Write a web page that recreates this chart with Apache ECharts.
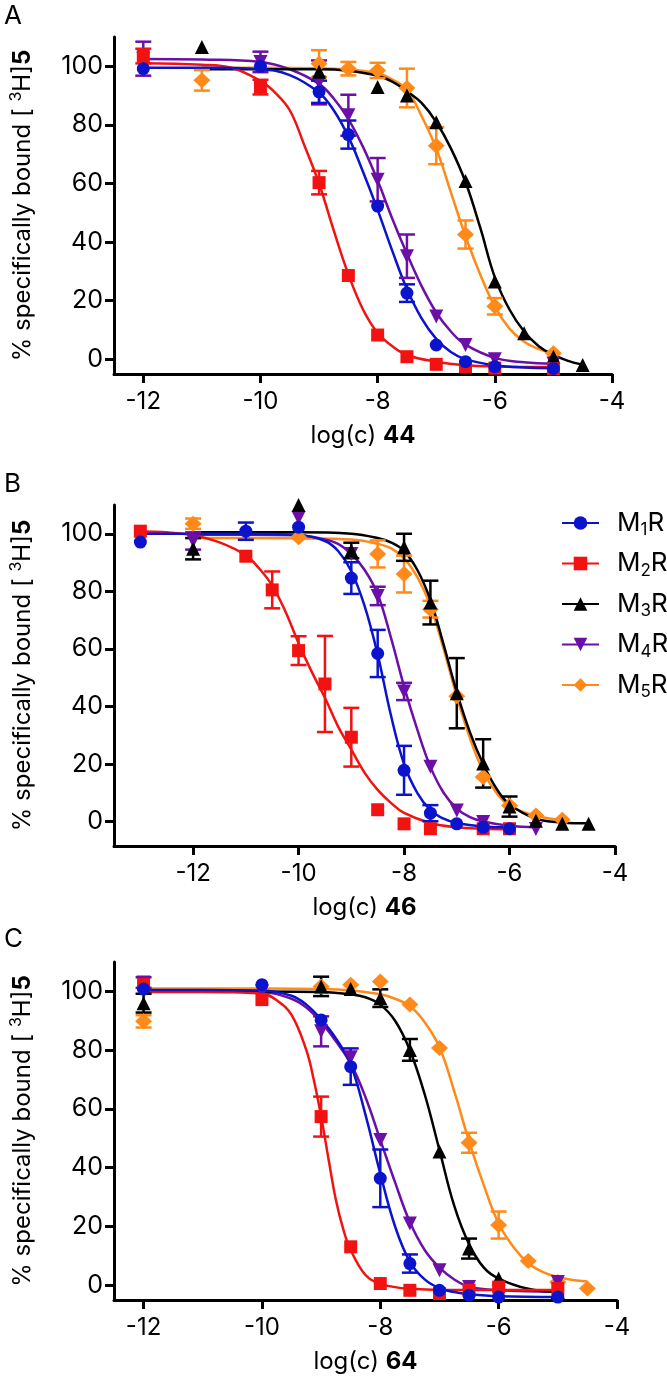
<!DOCTYPE html>
<html>
<head>
<meta charset="utf-8">
<script src="https://cdn.jsdelivr.net/npm/echarts@6.0.0/dist/echarts.min.js"></script>
<style>
html, body { margin: 0; padding: 0; background: #fff; }
#chart { width: 667px; height: 1380px; }
</style>
</head>
<body>
<div id="chart"></div>
<script>
// Data (log molar concentration vs % bound)
const receptors = ['M1R', 'M2R', 'M3R', 'M4R', 'M5R'];
const compounds = ['44', '46', '64'];
const panelLetters = ['A', 'B', 'C'];
const xTicks = [-12, -10, -8, -6, -4];
const yTicks = [0, 20, 40, 60, 80, 100];

// Panel A, compound 44
const A_M1R_pts = [[-12, 99.2], [-10, 100], [-9, 91.3], [-8.5, 76.7], [-8, 52.3], [-7.5, 22.6], [-7, 4.9], [-6.5, -0.8], [-6, -2.5], [-5, -3.1]];
const A_M1R_err = [[-9, 3.8], [-8.5, 4.8], [-7.5, 3]];
const A_M1R_fit = [[-12, 99.5], [-11, 99.5], [-10, 99], [-9.5, 97], [-9, 91], [-8.75, 85], [-8.5, 76], [-8.25, 64], [-8, 51], [-7.75, 37], [-7.5, 24], [-7.25, 14], [-7, 7], [-6.75, 2.5], [-6.5, 0], [-6, -2], [-5.5, -2.8], [-5, -3]];
const A_M2R_pts = [[-12, 103.5], [-10, 92.9], [-9, 60.3], [-8.5, 28.6], [-8, 8.3], [-7.5, 0.9], [-7, -1.7], [-6.5, -2.5], [-6, -3], [-5, -3.2]];
const A_M2R_err = [[-12, 2.5], [-10, 2.5], [-9, 4]];
const A_M2R_fit = [[-12, 101], [-11, 100.5], [-10.5, 99.5], [-10, 95], [-9.75, 91], [-9.5, 85], [-9.25, 73], [-9, 60], [-8.75, 44], [-8.5, 29], [-8.25, 17], [-8, 9], [-7.75, 4.5], [-7.5, 1.5], [-7, -0.8], [-6.5, -2], [-6, -2.4], [-5, -2.6]];
const A_M3R_pts = [[-11, 106.6], [-9, 98.1], [-8, 92.9], [-7.5, 90], [-7, 80.9], [-6.5, 60.9], [-6, 26.6], [-5.5, 8.9], [-5, 0.9], [-4.5, -1.9]];
const A_M3R_err = [];
const A_M3R_fit = [[-11, 99], [-10, 99], [-9, 99], [-8.5, 98.5], [-8, 96.8], [-7.75, 94.8], [-7.5, 91.5], [-7.25, 87.5], [-7, 81], [-6.75, 72], [-6.5, 60.5], [-6.25, 45], [-6, 28], [-5.75, 17], [-5.5, 9.5], [-5.25, 4.5], [-5, 1.5], [-4.75, -0.5], [-4.5, -1.8]];
const A_M4R_pts = [[-12, 102.6], [-10, 101.5], [-9, 94.5], [-8.5, 83.3], [-8, 61.3], [-7.5, 35.2], [-7, 14.6], [-6.5, 4.9], [-6, 0], [-5, -1.4]];
const A_M4R_err = [[-12, 5.8], [-10, 3.5], [-9, 7.5], [-8.5, 7], [-8, 7.4], [-7.5, 7.4]];
const A_M4R_fit = [[-12, 102.5], [-11, 102.3], [-10, 101.5], [-9.5, 99], [-9, 94], [-8.75, 89], [-8.5, 82], [-8.25, 72.5], [-8, 61], [-7.75, 48], [-7.5, 36], [-7.25, 25], [-7, 16], [-6.75, 9.5], [-6.5, 5], [-6, 0.5], [-5.5, -1], [-5, -1.5]];
const A_M5R_pts = [[-11, 95.2], [-9, 100.9], [-8.5, 99.2], [-8, 98.6], [-7.5, 92.6], [-7, 72.9], [-6.5, 42.6], [-6, 18.1], [-5, 2.1]];
const A_M5R_err = [[-11, 3.5], [-9, 4.6], [-8.5, 2.3], [-8, 2.6], [-7.5, 6.6], [-7, 6.3], [-6.5, 4.8], [-6, 2.8]];
const A_M5R_fit = [[-11, 99.5], [-10, 99.5], [-9, 99.3], [-8.5, 98.8], [-8, 97.6], [-7.75, 95.5], [-7.5, 92], [-7.25, 83], [-7, 72], [-6.75, 57], [-6.5, 42], [-6.25, 29], [-6, 18], [-5.75, 10.5], [-5.5, 6], [-5.25, 3.5], [-5, 2]];

// Panel B, compound 46
const B_M1R_pts = [[-13, 97.1], [-11, 100.9], [-10, 102.3], [-9, 84.6], [-8.5, 58.4], [-8, 17.8], [-7.5, 2.9], [-7, -0.8], [-6.5, -2], [-6, -2.5]];
const B_M1R_err = [[-11, 3], [-9, 5.5], [-8.5, 8.2], [-8, 8.5], [-7.5, 2.8]];
const B_M1R_fit = [[-13, 100], [-12, 100], [-11, 100], [-10, 99.6], [-9.5, 97.5], [-9.25, 94], [-9, 87], [-8.75, 75], [-8.5, 58], [-8.25, 37], [-8, 20], [-7.75, 10], [-7.5, 4], [-7.25, 1], [-7, -0.5], [-6.5, -1.7], [-6, -2]];
const B_M2R_pts = [[-13, 100.9], [-11, 92.2], [-10.5, 80.5], [-10, 59.4], [-9.5, 47.8], [-9, 29.3], [-8.5, 4.1], [-8, -0.8], [-7.5, -2.5], [-6.5, -2.5], [-6, -2.5]];
const B_M2R_err = [[-10.5, 6.4], [-10, 5], [-9.5, 16.7], [-9, 10.2]];
const B_M2R_fit = [[-13, 100.8], [-12.5, 100.5], [-12, 99.5], [-11.5, 97], [-11, 92.5], [-10.75, 88], [-10.5, 82], [-10.25, 73], [-10, 62], [-9.75, 52], [-9.5, 43], [-9.25, 33], [-9, 25], [-8.75, 17], [-8.5, 11], [-8.25, 6.5], [-8, 3], [-7.5, -0.5], [-7, -2], [-6.5, -2.5], [-6, -2.7]];
const B_M3R_pts = [[-12, 94.8], [-10, 110], [-9, 94.2], [-8, 95.3], [-7.5, 76.1], [-7, 44.6], [-6.5, 20.2], [-6, 5.2], [-5.5, 0.3], [-5, -0.8], [-4.5, -0.8]];
const B_M3R_err = [[-12, 3.7], [-9, 2.7], [-8, 4.7], [-7.5, 7.6], [-7, 12.2], [-6.5, 8.4], [-6, 3.5]];
const B_M3R_fit = [[-12, 100.5], [-11, 100.5], [-10, 100.5], [-9, 100], [-8.5, 98.5], [-8.25, 97], [-8, 94], [-7.75, 87.5], [-7.5, 77], [-7.25, 61.5], [-7, 45], [-6.75, 31], [-6.5, 20], [-6.25, 11.5], [-6, 6], [-5.5, 1], [-5, -0.3], [-4.5, -0.6]];
const B_M4R_pts = [[-12, 97.5], [-10, 105.5], [-9, 93], [-8.5, 78.4], [-8, 45.2], [-7.5, 19], [-7, 3.8], [-6.5, -0.2], [-5.5, -2.6]];
const B_M4R_err = [[-12, 3], [-8.5, 3.2], [-8, 3]];
const B_M4R_fit = [[-12, 99.7], [-11, 99.7], [-10, 99.5], [-9.5, 98], [-9.25, 96.5], [-9, 93], [-8.75, 87.5], [-8.5, 79], [-8.25, 64], [-8, 47], [-7.75, 32], [-7.5, 19], [-7.25, 10], [-7, 4.5], [-6.75, 1.5], [-6.5, 0], [-6, -1.5], [-5.5, -2]];
const B_M5R_pts = [[-12, 103.5], [-10, 98.8], [-8.5, 93], [-8, 86], [-7.5, 73.8], [-7, 43.5], [-6.5, 15.5], [-6, 5.6], [-5.5, 2.1], [-5, 0.6]];
const B_M5R_err = [[-12, 1.8], [-8.5, 4.7], [-8, 6.4], [-7.5, 2.9]];
const B_M5R_fit = [[-12, 98.5], [-11, 98.5], [-10, 98.4], [-9, 98], [-8.5, 96.5], [-8.25, 95], [-8, 91.5], [-7.75, 85], [-7.5, 75], [-7.25, 60], [-7, 43.5], [-6.75, 29], [-6.5, 17.5], [-6.25, 10], [-6, 5.5], [-5.5, 2], [-5, 0.5]];

// Panel C, compound 64
const C_M1R_pts = [[-12, 100.8], [-10, 102.3], [-9, 90.3], [-8.5, 74.4], [-8, 36.4], [-7.5, 7.4], [-7, -1.7], [-6.5, -3.4], [-6, -4], [-5, -4]];
const C_M1R_err = [[-8.5, 6.2], [-8, 9.8], [-7.5, 3.1]];
const C_M1R_fit = [[-12, 100.5], [-11, 100.5], [-10, 100.3], [-9.5, 98.5], [-9.25, 95.5], [-9, 90.5], [-8.75, 84], [-8.5, 75], [-8.25, 58], [-8, 38], [-7.75, 20], [-7.5, 8], [-7.25, 2], [-7, -1], [-6.75, -2.3], [-6.5, -3], [-6, -3.7], [-5, -4]];
const C_M2R_pts = [[-12, 102.3], [-10, 97.2], [-9, 57.4], [-8.5, 13.1], [-8, 0.6], [-7.5, -1.7], [-7, -2.8], [-6.5, -1.7], [-6, -0.6], [-5, -1.1]];
const C_M2R_err = [[-9, 6.8]];
const C_M2R_fit = [[-12, 99.8], [-11, 99.8], [-10.5, 99.7], [-10, 99.3], [-9.75, 97], [-9.5, 92], [-9.25, 80], [-9.125, 70], [-9, 57.5], [-8.875, 43], [-8.75, 29], [-8.625, 19], [-8.5, 12], [-8.25, 3.5], [-8, 0.5], [-7.5, -1.2], [-7, -1.5], [-6, -1.6], [-5, -1.6]];
const C_M3R_pts = [[-12, 96], [-9, 101.7], [-8.5, 100.8], [-8, 97.7], [-7.5, 80.1], [-7, 45.5], [-6.5, 12.5], [-6, 2.3], [-5, -2.3]];
const C_M3R_err = [[-12, 3.2], [-9, 3.3], [-8, 3], [-7.5, 3.7], [-6.5, 3.4]];
const C_M3R_fit = [[-12, 100], [-11, 100], [-10, 100], [-9, 99.8], [-8.5, 99], [-8.25, 98], [-8, 95.5], [-7.75, 90], [-7.5, 80], [-7.25, 65], [-7, 46], [-6.75, 27], [-6.5, 14], [-6.25, 6], [-6, 2.3], [-5.5, -1.2], [-5, -2.3]];
const C_M4R_pts = [[-12, 103], [-10, 100], [-9, 86.4], [-8.5, 77.6], [-8, 49.4], [-7.5, 21], [-7, 5.1], [-6.5, -0.6], [-5, 1.1]];
const C_M4R_err = [[-12, 1.8], [-9, 5.1]];
const C_M4R_fit = [[-12, 100.3], [-11, 100.2], [-10, 99.8], [-9.5, 97.5], [-9.25, 94.5], [-9, 89.5], [-8.75, 83], [-8.5, 75.5], [-8.25, 64], [-8, 49.5], [-7.75, 35], [-7.5, 21.5], [-7.25, 12], [-7, 6], [-6.75, 2], [-6.5, -0.5], [-6, -1.7], [-5, -2.2]];
const C_M5R_pts = [[-12, 89.8], [-9, 101.7], [-8.5, 102.3], [-8, 103.4], [-7.5, 95.5], [-7, 80.7], [-6.5, 48.5], [-6, 20.5], [-5.5, 8.3], [-5, 1.1], [-4.5, -1.1]];
const C_M5R_err = [[-12, 2.1], [-6.5, 3.4], [-6, 4.6]];
const C_M5R_fit = [[-12, 101], [-10, 101], [-9, 100.8], [-8.5, 100.3], [-8, 99], [-7.75, 97.5], [-7.5, 95], [-7.25, 89.5], [-7, 81], [-6.75, 66], [-6.5, 49], [-6.25, 34], [-6, 21], [-5.75, 13], [-5.5, 7.5], [-5.25, 4.5], [-5, 2.8], [-4.75, 1.8], [-4.5, 1.3]];

const panelData = [
    { pts: [A_M1R_pts, A_M2R_pts, A_M3R_pts, A_M4R_pts, A_M5R_pts], err: [A_M1R_err, A_M2R_err, A_M3R_err, A_M4R_err, A_M5R_err], fit: [A_M1R_fit, A_M2R_fit, A_M3R_fit, A_M4R_fit, A_M5R_fit] },
    { pts: [B_M1R_pts, B_M2R_pts, B_M3R_pts, B_M4R_pts, B_M5R_pts], err: [B_M1R_err, B_M2R_err, B_M3R_err, B_M4R_err, B_M5R_err], fit: [B_M1R_fit, B_M2R_fit, B_M3R_fit, B_M4R_fit, B_M5R_fit] },
    { pts: [C_M1R_pts, C_M2R_pts, C_M3R_pts, C_M4R_pts, C_M5R_pts], err: [C_M1R_err, C_M2R_err, C_M3R_err, C_M4R_err, C_M5R_err], fit: [C_M1R_fit, C_M2R_fit, C_M3R_fit, C_M4R_fit, C_M5R_fit] }
];

// Layout / style
const FONT = "Inter, 'Liberation Sans', Arial, sans-serif";
const colors = ['#0b14cc', '#f21212', '#000000', '#6b0fa6', '#ff8a1a'];
const symbols = ['circle', 'rect', 'triangle', 'path://M0,0L10,0L5,10Z', 'diamond'];
const symbolSizes = [13, 13, 14, 14, [17, 16]];
const grids = [
    { left: 110, top: 37, width: 502, height: 337 },
    { left: 110, top: 505, width: 505, height: 341 },
    { left: 110, top: 962, width: 507, height: 338 }
];
const xMins = [-12.5, -13.5, -12.5];
const yMins = [-5, -8.5, -5];
const letterTops = [3, 471, 926];

const chart = echarts.init(document.getElementById('chart'), null, { renderer: 'canvas' });

function axisBase(gi) {
    return {
        gridIndex: gi,
        type: 'value',
        splitLine: { show: false },
        axisLine: { show: true, onZero: false, lineStyle: { color: '#000', width: 3 } },
        axisTick: { show: true, length: 9, lineStyle: { color: '#000', width: 3 } },
        axisLabel: { color: '#000', fontSize: 24, fontFamily: FONT }
    };
}

function errorItem(params, api) {
    const x = api.value(0), y = api.value(1), e = api.value(2);
    const hi = api.coord([x, y + e]);
    const lo = api.coord([x, y - e]);
    const hw = 8;
    const style = { stroke: api.visual('color'), lineWidth: 2.5 };
    return {
        type: 'group',
        children: [
            { type: 'line', shape: { x1: hi[0], y1: hi[1], x2: lo[0], y2: lo[1] }, style: style },
            { type: 'line', shape: { x1: hi[0] - hw, y1: hi[1], x2: hi[0] + hw, y2: hi[1] }, style: style },
            { type: 'line', shape: { x1: lo[0] - hw, y1: lo[1], x2: lo[0] + hw, y2: lo[1] }, style: style }
        ]
    };
}

function withY(pts, errs) {
    return errs.map(function (e) {
        const p = pts.find(function (q) { return q[0] === e[0]; });
        return [e[0], p[1], e[1]];
    });
}

const xAxes = [], yAxes = [], series = [], titles = [];

panelData.forEach(function (pd, gi) {
    const xa = axisBase(gi);
    xa.min = xMins[gi];
    xa.max = -4;
    xa.axisTick.customValues = xTicks;
    xa.axisLabel.customValues = xTicks;
    xa.axisLabel.margin = 16;
    xa.name = '{a|log(c) }{b|' + compounds[gi] + '}';
    xa.nameLocation = 'middle';
    xa.nameGap = 50;
    xa.nameTextStyle = {
        color: '#000',
        rich: {
            a: { fontSize: 24, fontFamily: FONT, color: '#000' },
            b: { fontSize: 24, fontFamily: FONT, fontWeight: 'bold', color: '#000' }
        }
    };
    xAxes.push(xa);

    const ya = axisBase(gi);
    ya.min = yMins[gi];
    ya.max = 110;
    ya.axisTick.customValues = yTicks;
    ya.axisLabel.customValues = yTicks;
    ya.axisLabel.margin = 11;
    ya.axisLabel.fontSize = 25;
    ya.name = '{a|% specifically bound [ }{s|3}{a|H]}{b|5}';
    ya.nameLocation = 'middle';
    ya.nameGap = 76;
    ya.nameTextStyle = {
        color: '#000',
        rich: {
            a: { fontSize: 24, fontFamily: FONT, color: '#000' },
            s: { fontSize: 16, fontFamily: FONT, color: '#000', padding: [0, 0, 14, 0] },
            b: { fontSize: 24, fontFamily: FONT, fontWeight: 'bold', color: '#000' }
        }
    };
    yAxes.push(ya);

    titles.push({
        text: panelLetters[gi], left: 4, top: letterTops[gi], padding: 0,
        textStyle: { fontSize: 26, fontWeight: 'normal', color: '#000', fontFamily: FONT }
    });

    // draw M5R first so that M1R ends up on top
    for (let r = receptors.length - 1; r >= 0; r--) {
        series.push({
            name: receptors[r],
            type: 'line',
            xAxisIndex: gi, yAxisIndex: gi,
            data: pd.fit[r],
            smooth: 0.4,
            showSymbol: false,
            symbol: symbols[r],
            lineStyle: { color: colors[r], width: 2.5 },
            itemStyle: { color: colors[r] },
            silent: true,
            z: 2
        });
        series.push({
            name: receptors[r] + ' error ' + gi,
            type: 'custom',
            xAxisIndex: gi, yAxisIndex: gi,
            data: withY(pd.pts[r], pd.err[r]),
            encode: { x: 0, y: 1 },
            renderItem: errorItem,
            itemStyle: { color: colors[r] },
            silent: true,
            z: 3
        });
        series.push({
            name: receptors[r] + ' points ' + gi,
            type: 'scatter',
            xAxisIndex: gi, yAxisIndex: gi,
            data: pd.pts[r],
            symbol: symbols[r],
            symbolSize: symbolSizes[r],
            itemStyle: { color: colors[r], opacity: 1 },
            silent: true,
            z: 4
        });
    }
});

chart.setOption({
    animation: false,
    backgroundColor: '#fff',
    textStyle: { fontFamily: FONT },
    title: titles,
    grid: grids,
    xAxis: xAxes,
    yAxis: yAxes,
    legend: {
        orient: 'vertical',
        left: 556,
        top: 505,
        itemWidth: 37,
        itemHeight: 17,
        itemGap: 12,
        selectedMode: false,
        data: receptors,
        formatter: function (name) {
            return '{sp| }{n|M}{s|' + name.charAt(1) + '}{n|R}';
        },
        textStyle: {
            color: '#000',
            rich: {
                sp: { width: 13, fontSize: 25 },
                n: { fontSize: 26, fontFamily: FONT, color: '#000' },
                s: { fontSize: 17, fontFamily: FONT, color: '#000', padding: [14, 0, 0, 0] }
            }
        }
    },
    series: series
});
</script>
</body>
</html>
